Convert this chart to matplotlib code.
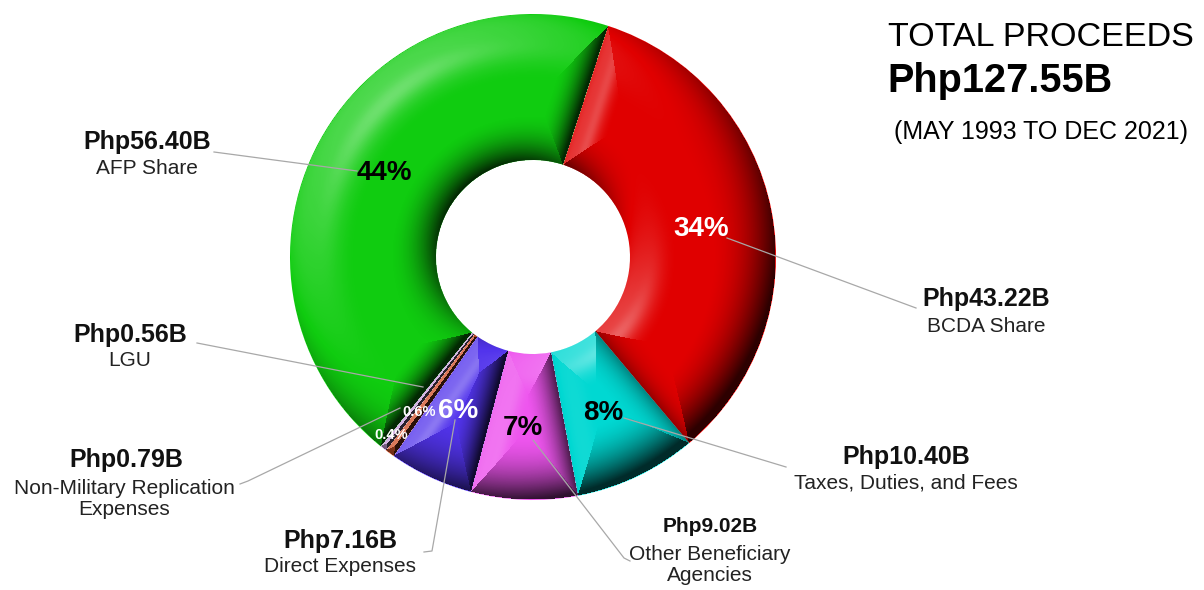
import numpy as np
import matplotlib.pyplot as plt
from matplotlib.patches import Wedge

# ---- data ----
names = ["BCDA Share", "Taxes, Duties, and Fees", "Other Beneficiary\nAgencies",
         "Direct Expenses", "Non-Military Replication\nExpenses", "LGU", "AFP Share"]
values = [43.22, 10.40, 9.02, 7.16, 0.79, 0.56, 56.40]   # billion Php
colors = ["#e00000", "#00d8d2", "#ee55ee", "#5234ec", "#d0522a", "#c9a0dc", "#10cc10"]
total_label = "Php127.55B"
period_label = "(MAY 1993 TO DEC 2021)"

W, H = 1204, 590


def py(y):
    # pixel row (from top) -> data y
    return H - y


def pct_text(v, tot):
    p = v / tot * 100
    return f"{p:.1f}%" if p < 1 else f"{p:.0f}%"


def bevel_overlay(vals, start, R, rin, n=486):
    """black/white alpha layer that fakes the 3D bevel of each slice"""
    edges = 360 * np.concatenate([[0], np.cumsum(vals)]) / np.sum(vals)
    u = np.linspace(-R, R, n)
    X, Y = np.meshgrid(u, u)
    r = np.hypot(X, Y)
    th = np.arctan2(Y, X)
    a = (start - np.degrees(th)) % 360
    idx = np.clip(np.searchsorted(edges, a, side="right") - 1, 0, len(vals) - 1)
    a_lo, a_hi = edges[idx], edges[idx + 1]

    d = np.stack([R - r, r - rin,
                  np.radians(a - a_lo) * r, np.radians(a_hi - a) * r])
    b = np.array([64.0, 46.0, 34.0, 34.0])[:, None, None]
    s = d / b
    k = np.argmin(s, axis=0)
    smin = np.min(s, axis=0)

    er = np.stack([np.cos(th), np.sin(th)])
    et = np.stack([-np.sin(th), np.cos(th)])
    dirs = np.stack([er, -er, et, -et])            # outward direction per edge
    dx = np.take_along_axis(dirs[:, 0], k[None], 0)[0]
    dy = np.take_along_axis(dirs[:, 1], k[None], 0)[0]

    tmax = np.where(k == 1, np.radians(58), np.radians(66))
    tilt = tmax * np.clip(1 - smin, 0, 1) ** 1.6
    nx, ny, nz = np.sin(tilt) * dx, np.sin(tilt) * dy, np.cos(tilt)
    L = np.array([-0.55, 0.6, 0.75])
    L = L / np.linalg.norm(L)
    diff = nx * L[0] + ny * L[1] + nz * L[2] - L[2]

    # specular highlight
    hv = L + np.array([0, 0, 1.0])
    hv = hv / np.linalg.norm(hv)
    spec = np.clip(nx * hv[0] + ny * hv[1] + nz * hv[2], 0, 1) ** 40

    img = np.zeros((n, n, 4))
    light = diff > 0
    img[..., :3] = np.where(light, 1.0, 0.0)[..., None]
    alpha = np.where(light, np.clip(diff * 0.8, 0, 0.3), np.clip(-diff * 0.9, 0, 0.8))
    img[..., 3] = np.clip(alpha + 0.2 * spec * light, 0, 0.9)
    img[(r > R) | (r < rin), 3] = 0
    return img


fig = plt.figure(figsize=(W / 100, H / 100), dpi=100)
ax = fig.add_axes([0, 0, 1, 1])

cx, cy = 533, py(257)
R, rin = 243, 97
start = 72

wedges, _ = ax.pie(values, colors=colors, startangle=start, counterclock=False,
                   radius=R, center=(cx, cy),
                   wedgeprops=dict(width=R - rin, linewidth=0))

shade = bevel_overlay(values, start, R, rin)
im = ax.imshow(shade, extent=(cx - R, cx + R, cy - R, cy + R), origin="lower",
               interpolation="bilinear", zorder=3)
ring = Wedge((cx, cy), R, 0, 360, width=R - rin, transform=ax.transData)
im.set_clip_path(ring)

ax.set_xlim(0, W)
ax.set_ylim(0, H)
ax.set_aspect("equal")
ax.axis("off")

font = "Liberation Sans"
tot = sum(values)

# percentage labels on the ring
pct_pos = [(701, 229), (603, 413), (523, 428), (458, 411), (419, 412), (391, 435), (384, 173)]
pct_col = ["white", "black", "black", "white", "white", "white", "black"]
for v, (x, y), c in zip(values, pct_pos, pct_col):
    fs = 20 if v / tot >= 0.01 else 10.5
    ax.text(x, py(y), pct_text(v, tot), color=c, fontsize=fs, fontweight="bold",
            family=font, ha="center", va="center", zorder=5)

# outside labels: bold value + name
val_pos = [(986, 299), (906, 457), (710, 527), (340, 541), (126, 460), (130, 335), (147, 142)]
name_pos = [(986, 326), (906, 483), (710, 565), (340, 567), (124, 499), (130, 361), (147, 168)]
val_fs = [18, 18, 15, 18, 18, 18, 18]
for v, nm, (vx, vy), (nx_, ny_), fs in zip(values, names, val_pos, name_pos, val_fs):
    ax.text(vx, py(vy), f"Php{v:.2f}B", fontsize=fs, fontweight="bold", family=font,
            ha="center", va="center", color="#111111", zorder=5)
    ax.text(nx_, py(ny_), nm, fontsize=15, family=font, ha="center", va="center",
            color="#222222", linespacing=1.15, zorder=5)

# leader lines
leaders = [
    [(727, 238), (916, 308)],
    [(624, 418), (786, 467)],
    [(533, 440), (624, 558), (630, 561)],
    [(455, 420), (432, 551), (424, 552)],
    [(240, 484), (248, 481), (400, 408)],
    [(197, 343), (423, 387)],
    [(214, 152), (357, 171)],
]
for pts in leaders:
    xs = [p[0] for p in pts]
    ys = [py(p[1]) for p in pts]
    ax.plot(xs, ys, color="#a8a8a8", lw=0.9, zorder=4)

# title block
ax.text(888, py(37), "TOTAL PROCEEDS", fontsize=24.6, family=font, ha="left", va="center")
ax.text(887, py(81), total_label, fontsize=28.5, fontweight="bold", family=font,
        ha="left", va="center")
ax.text(894, py(132), period_label, fontsize=18, family=font, ha="left", va="center")

fig.savefig("out.png", dpi=100)
